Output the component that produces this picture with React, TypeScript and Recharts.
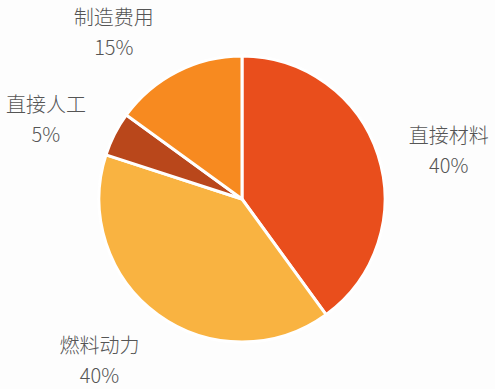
import { Cell, Pie, PieChart } from "recharts";

const CATEGORIES = ["直接材料", "燃料动力", "直接人工", "制造费用"];
const SHARES = [40, 40, 5, 15];
const SLICE_COLORS = ["#E94E1C", "#F9B341", "#B9471B", "#F78A20"];
// small angle nudges (degrees) so labels sit where the original put them
const LABEL_NUDGE = [-4, -6, 4, 10];

const data = CATEGORIES.map((name, i) => ({ name, value: SHARES[i] }));

const RADIAN = Math.PI / 180;

function renderLabel(props: any) {
  const { cx, cy, midAngle, outerRadius, index, value } = props;
  const angle = (midAngle + LABEL_NUDGE[index]) * RADIAN;
  const dist = outerRadius + 70;
  const x = cx + dist * Math.cos(angle);
  const y = cy - dist * Math.sin(angle);
  return (
    <text
      x={x}
      y={y}
      textAnchor="middle"
      fill="#555555"
      fontSize={20}
      fontWeight={300}
      fontFamily="'Noto Sans CJK SC', 'Noto Sans', sans-serif"
    >
      <tspan x={x} dy={-4}>{CATEGORIES[index]}</tspan>
      <tspan x={x} dy={30}>{`${value}%`}</tspan>
    </text>
  );
}

export default function App() {
  return (
    <div style={{ position: "absolute", left: 0, top: 0, width: 495, height: 389, background: "#fdfdfd" }}>
      <PieChart width={495} height={389} margin={{ top: 0, right: 0, bottom: 0, left: 0 }}>
        <Pie
          data={data}
          dataKey="value"
          nameKey="name"
          cx={242}
          cy={199}
          outerRadius={143}
          startAngle={90}
          endAngle={-270}
          stroke="#ffffff"
          strokeWidth={3}
          label={renderLabel}
          labelLine={false}
          isAnimationActive={false}
        >
          {data.map((entry, index) => (
            <Cell key={entry.name} fill={SLICE_COLORS[index]} />
          ))}
        </Pie>
      </PieChart>
    </div>
  );
}
